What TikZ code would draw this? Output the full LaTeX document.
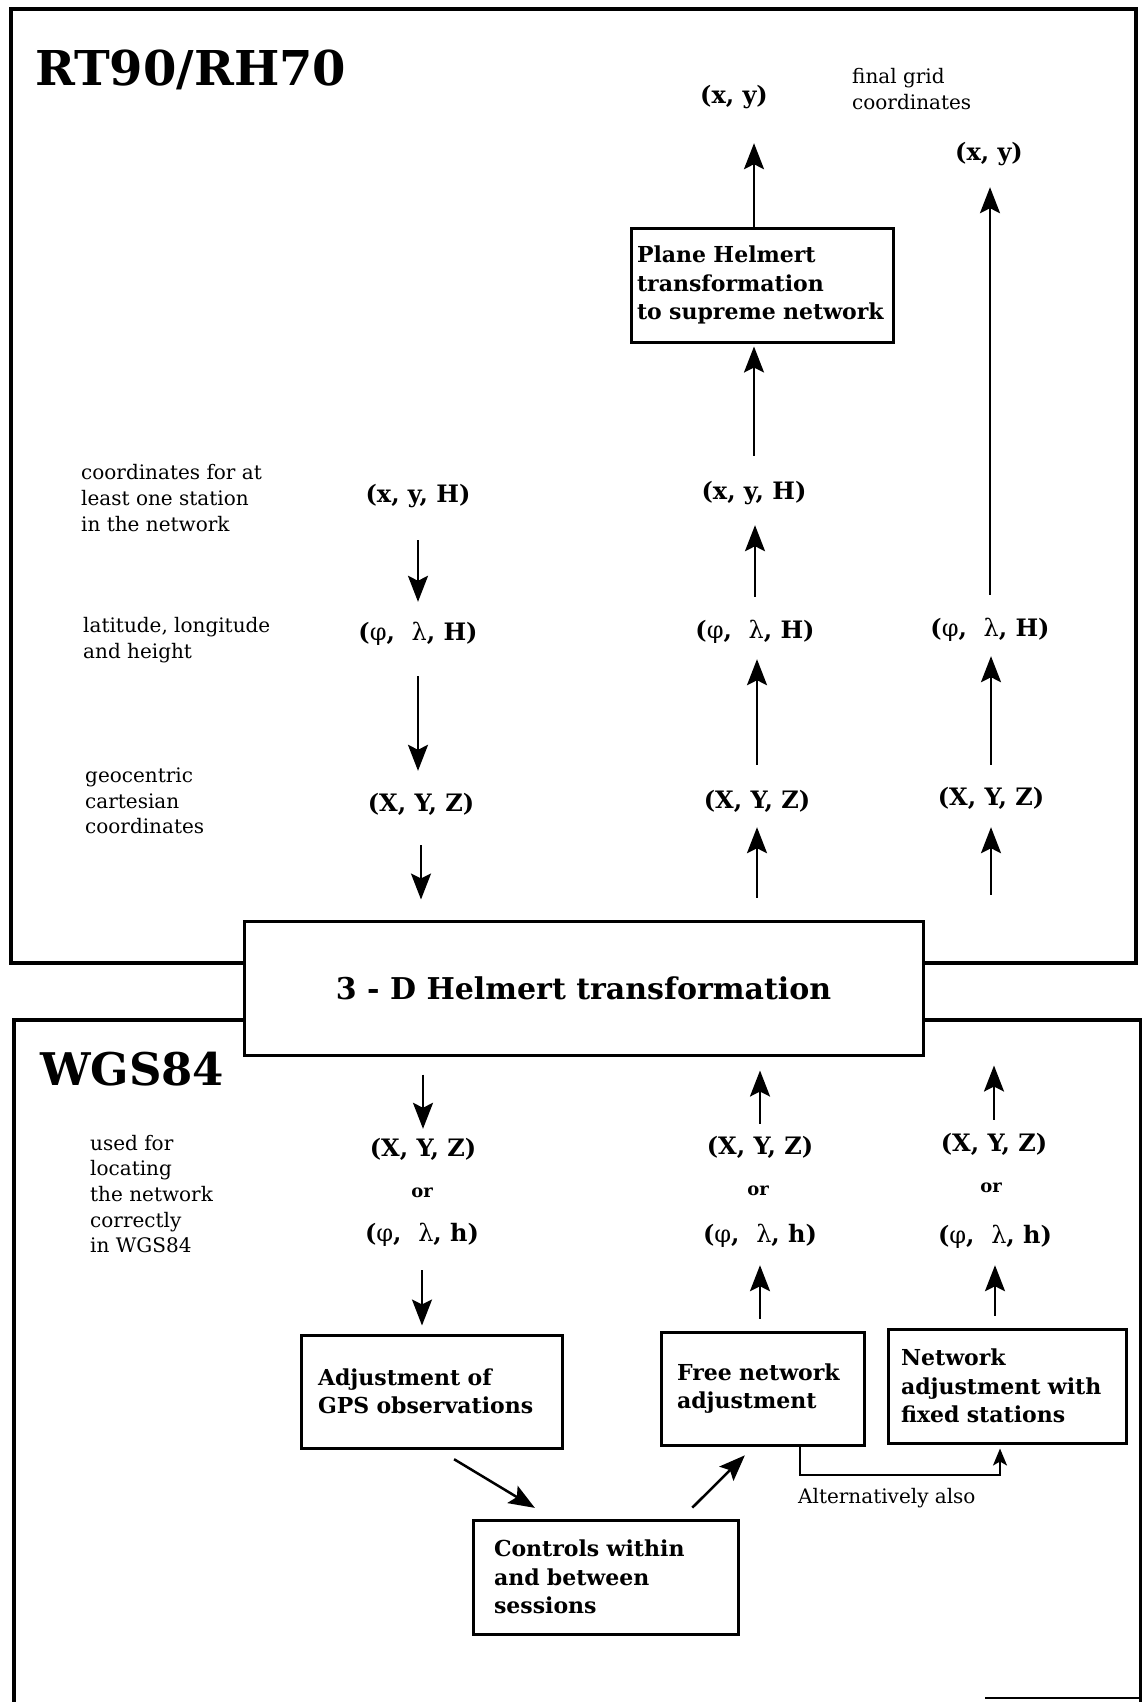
\documentclass[tikz,border=0pt]{standalone}
\usepackage{fontspec}
\setmainfont{DejaVu Serif}
\usetikzlibrary{arrows.meta}
\newcommand\keep[1]{\mbox{#1}}
\newcommand\gk[1]{\textmd{#1}}
\tikzset{
  frame/.style={line width=3.2pt},
  crd/.style={font=\bfseries\fontsize{24}{28}\selectfont, inner sep=0pt, text height=16pt, text depth=5pt},
  orlbl/.style={font=\bfseries\fontsize{18}{20}\selectfont, inner sep=0pt},
  note/.style={font=\fontsize{20}{25.7}\selectfont, align=left, anchor=west, inner sep=0pt},
  title/.style={font=\bfseries\fontsize{48}{52}\selectfont, anchor=west, inner sep=0pt},
  box/.style={draw, line width=3pt, fill=white, font=\bfseries\fontsize{22}{28.5}\selectfont,
              align=left, inner ysep=0pt},
  arr/.style={line width=2.5pt, -{Stealth[length=26pt,width=20pt,inset=5pt]}},
  thinarr/.style={line width=2pt, -{Stealth[length=17pt,width=14pt,inset=4pt]}},
}
\begin{document}
\begin{tikzpicture}[x=1pt,y=-1pt]
\useasboundingbox (0,0) rectangle (1142,1702);
\fill[white] (0,0) rectangle (1142,1702);

% the two reference-system frames
\draw[frame] (11,9) rectangle (1136,963);
\draw[frame] (14,1712) -- (14,1020) -- (1141,1020) -- (1141,1712);
\draw[line width=2pt] (985,1698) -- (1145,1698);

\node[title] (tRT) at (35,70) {RT90/RH70};
\node[title, font=\bfseries\fontsize{45}{50}\selectfont] (tWGS) at (40,1069) {WGS84};

% central transformation box
\node[box, minimum width=679pt, minimum height=134pt, inner sep=0pt, align=center,
      font=\bfseries\fontsize{30}{36}\selectfont] (H3) at (583.5,988) {3 - D Helmert transformation};

% descriptive notes
\node[note] (n1) at (81,498) {coordinates for at\\least one station\\in the network};
\node[note] (n2) at (83,640) {latitude, longitude\\and height};
\node[note] (n3) at (85,801) {geocentric\\cartesian\\coordinates};
\node[note] (n4) at (852,89) {final grid\\coordinates};
\node[note] (n5) at (90,1194) {used for\\locating\\the network\\correctly\\in WGS84};
\node[note] (alt) at (798,1498) {Alternatively also};

% left column (RT90 -> WGS84)
\node[crd] (L1) at (418,497) {(x, y, H)};
\node[crd] (L2) at (418,635) {(\gk{φ},\ \ \gk{λ}, H)};
\node[crd] (L3) at (421,806) {(X, Y, Z)};
\node[crd] (LL1) at (423,1151) {(X, Y, Z)};
\node[orlbl] (LLor) at (422,1193) {or};
\node[crd] (LL2) at (422,1236) {(\gk{φ},\ \ \gk{λ}, h)};

% middle column
\node[crd] (M0) at (734,98) {(x, y)};
\node[crd] (M1) at (754,494) {(x, y, H)};
\node[crd] (M2) at (755,633) {(\gk{φ},\ \ \gk{λ}, H)};
\node[crd] (M3) at (757,803) {(X, Y, Z)};
\node[crd] (LM1) at (760,1149) {(X, Y, Z)};
\node[orlbl] (LMor) at (758,1191) {or};
\node[crd] (LM2) at (760,1237) {(\gk{φ},\ \ \gk{λ}, h)};

% right column
\node[crd] (R0) at (989,155) {(x, y)};
\node[crd] (R2) at (990,631) {(\gk{φ},\ \ \gk{λ}, H)};
\node[crd] (R3) at (991,800) {(X, Y, Z)};
\node[crd] (LR1) at (994,1146) {(X, Y, Z)};
\node[orlbl] (LRor) at (991,1188) {or};
\node[crd] (LR2) at (995,1238) {(\gk{φ},\ \ \gk{λ}, h)};

% process boxes
\node[box, minimum width=262pt, minimum height=114pt, inner xsep=6pt, text width=250pt] (PB) at (762,285)
  {\keep{Plane Helmert}\\\keep{transformation}\\\keep{to supreme network}};
\node[box, minimum width=261pt, minimum height=113pt, inner xsep=17pt, text width=227pt] (Adj) at (431.5,1391.5)
  {\keep{Adjustment of}\\\keep{GPS observations}};
\node[box, minimum width=203pt, minimum height=113pt, inner xsep=16pt, text width=171pt] (Free) at (762.5,1388.5)
  {\keep{Free network}\\\keep{adjustment}};
\node[box, minimum width=238pt, minimum height=114pt, inner xsep=13pt, text width=212pt] (Fixed) at (1007,1386)
  {\keep{Network}\\\keep{adjustment with}\\\keep{fixed stations}};
\node[box, minimum width=265pt, minimum height=114pt, inner xsep=21pt, text width=223pt] (Ctrl) at (605.5,1577)
  {\keep{Controls within}\\\keep{and between}\\\keep{sessions}};

% arrows, left column
\draw[arr, shorten <=32.5pt, shorten >=22.5pt] (L1.south) -- (L1 |- L2.north);
\draw[arr, shorten <=30.5pt, shorten >=24.5pt] (L2.south) -- (L2 |- L3.north);
\draw[arr, shorten <=28.5pt, shorten >=20pt] (L3.south) -- (L3 |- H3.north);
\draw[arr, shorten <=18pt, shorten >=11.5pt] (LL1 |- H3.south) -- (LL1.north);
\draw[arr, shorten <=23.5pt, shorten >=8pt] (LL2.south) -- (LL2 |- Adj.north);

% arrows, middle column
\draw[arr, shorten >=34.5pt] (M1 |- PB.north) -- (M1 |- M0.south);
\draw[arr, shorten <=27.5pt, shorten >=3pt] (M1.north) -- (M1 |- PB.south);
\draw[arr, shorten <=25.5pt, shorten >=20.5pt] (M2.north) -- (M2 |- M1.south);
\draw[arr, shorten <=27.5pt, shorten >=15.5pt] (M3.north) -- (M3 |- M2.south);
\draw[arr, shorten <=22pt, shorten >=13.5pt] (M3 |- H3.north) -- (M3.south);
\draw[arr, shorten <=14.5pt, shorten >=14pt] (LM1.north) -- (LM1 |- H3.south);
\draw[arr, shorten <=12pt, shorten >=17.5pt] (LM2 |- Free.north) -- (LM2.south);

% arrows, right column
\draw[arr, shorten <=25.5pt, shorten >=21.5pt] (R2.north) -- (R2 |- R0.south);
\draw[arr, shorten <=24.5pt, shorten >=14.5pt] (R3.north) -- (R3 |- R2.south);
\draw[arr, shorten <=25pt, shorten >=16.5pt] (R3 |- H3.north) -- (R3.south);
\draw[arr, shorten <=15.5pt, shorten >=9pt] (LR1.north) -- (LR1 |- H3.south);
\draw[arr, shorten <=12pt, shorten >=16.5pt] (LR2 |- Fixed.north) -- (LR2.south);

% adjustment workflow
\draw[arr, shorten <=18.8pt, shorten >=20.6pt] ([xshift=6.5pt]Adj.south) -- ([xshift=-53pt]Ctrl.north);
\draw[arr, shorten <=15.3pt, shorten >=12.5pt] ([xshift=75.9pt]Ctrl.north) -- ([xshift=-8.8pt]Free.south);
\draw[thinarr, shorten >=4pt] ([xshift=37.5pt]Free.south) -- ++(0,28) -| ([xshift=-7pt]Fixed.south);
\end{tikzpicture}
\end{document}
